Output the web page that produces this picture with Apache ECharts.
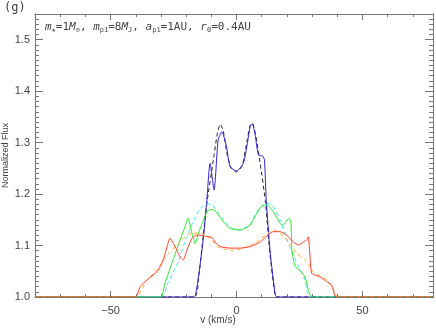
<!DOCTYPE html>
<html>
<head>
<meta charset="utf-8">
<script src="https://cdn.jsdelivr.net/npm/echarts@6/dist/echarts.min.js"></script>
<style>
  html, body { margin: 0; padding: 0; background: #fff; }
  #chart { width: 436px; height: 329px; }
</style>
</head>
<body>
<div id="chart"></div>
<script>
// velocity (km/s) / normalized flux pairs
const blueObs = [[-80,1.0],[-17.2,1.0],[-16.4,1.002],[-15.1,1.039],[-13.1,1.117],[-11.8,1.188],[-10.5,1.26],[-8.9,1.208],[-7.3,1.305],[-5.8,1.321],[-4.1,1.295],[-2.5,1.253],[0.1,1.245],[2.7,1.26],[4.2,1.295],[5.4,1.331],[6.3,1.336],[7.4,1.315],[8.7,1.276],[10.4,1.274],[11.1,1.266],[11.8,1.188],[13.3,1.091],[14.9,1.023],[16.1,1.0],[80,1.0]]
const blackModel = [[-80,1.0],[-16.8,1.0],[-15,1.04],[-13.2,1.12],[-11.6,1.188],[-9.2,1.266],[-7.7,1.315],[-6.5,1.336],[-5.3,1.324],[-3.7,1.276],[-2.1,1.25],[-0.2,1.243],[2.2,1.254],[4.2,1.305],[5.4,1.334],[6.3,1.338],[7.4,1.32],[9.4,1.26],[11.4,1.188],[13.3,1.082],[15.3,1.004],[16.1,1.0],[80,1.0]]
const greenObs = [[-80,1.0],[-30.3,1.0],[-28.4,1.027],[-25.7,1.065],[-22.4,1.111],[-20.4,1.137],[-19.3,1.153],[-17.7,1.124],[-16.4,1.104],[-15.1,1.124],[-13.1,1.15],[-11.2,1.169],[-9.4,1.17],[-7.8,1.163],[-5.2,1.146],[-2.5,1.133],[1.4,1.13],[5.4,1.14],[8.1,1.163],[10.0,1.177],[12.0,1.179],[14.6,1.166],[17.3,1.143],[18.6,1.14],[20.0,1.15],[20.9,1.153],[21.6,1.143],[22.0,1.091],[23.3,1.059],[25.2,1.052],[27.2,1.039],[28.5,1.014],[29.9,1.0],[80,1.0]]
const cyanModel = [[-80,1.0],[-30,1.0],[-27,1.03],[-23.1,1.069],[-20.0,1.114],[-16.4,1.156],[-14.5,1.171],[-11.7,1.181],[-9.7,1.179],[-6.5,1.159],[-2.5,1.136],[1.4,1.13],[5.4,1.142],[8.6,1.169],[12.0,1.182],[14.1,1.179],[17.3,1.15],[20.0,1.111],[23.3,1.072],[27.2,1.033],[29.2,1.0],[80,1.0]]
const redObs = [[-80,1.0],[-40.2,1.0],[-38.3,1.02],[-35.6,1.033],[-31.6,1.049],[-29.7,1.065],[-28.3,1.085],[-27.4,1.101],[-26.4,1.114],[-25.0,1.104],[-23.7,1.091],[-22.4,1.078],[-21.1,1.072],[-19.7,1.091],[-17.7,1.114],[-15.8,1.12],[-13.8,1.12],[-11.8,1.117],[-9.8,1.116],[-8.5,1.107],[-6.5,1.098],[-2.5,1.095],[1.4,1.095],[5.4,1.098],[9.4,1.107],[14.6,1.127],[17.3,1.127],[20.0,1.12],[22.6,1.107],[24.6,1.101],[26.6,1.107],[28.1,1.112],[28.5,1.117],[29.2,1.078],[29.9,1.046],[33.2,1.039],[35.8,1.03],[37.8,1.023],[39.1,1.002],[39.8,1.0],[80,1.0]]
const orangeModel = [[-80,1.0],[-40,1.0],[-36,1.03],[-32.3,1.049],[-27.0,1.085],[-23.7,1.101],[-21.1,1.114],[-17.7,1.124],[-14.4,1.124],[-10.5,1.115],[-7.8,1.098],[-2.5,1.091],[1.4,1.093],[7.4,1.105],[13.3,1.127],[15.3,1.129],[19.3,1.115],[23.9,1.085],[27.2,1.072],[30.5,1.049],[35.8,1.033],[38.5,1.014],[40.4,1.0],[80,1.0]]

const vMajor = [-50, 0, 50]
const fMajor = [1.0, 1.1, 1.2, 1.3, 1.4, 1.5]

const axisCol = '#777'
const textCol = '#444'

let myEcharts = echarts.init(document.getElementById('chart'))

function vLabel(v){
  if (v % 50 !== 0) return ''
  return v < 0 ? '\u2212' + (-v) : String(v)
}
function fLabel(v){
  let k = Math.round(v * 10)
  if (Math.abs(v * 10 - k) > 1e-6 || k > 15) return ''
  return (k / 10).toFixed(1)
}

// mirrored axes, IDL box style: minor ticks on one axis, major ticks on a twin
function xAx(pos, major, labels){
  return {
    type: 'value', position: pos, min: -80, max: 78,
    interval: 10,
    axisLine: { show: true, onZero: false, lineStyle: { color: axisCol, width: 1 } },
    axisTick: major
      ? { show: true, inside: true, length: 6, customValues: vMajor, lineStyle: { color: axisCol } }
      : { show: true, inside: true, length: 3, lineStyle: { color: axisCol } },
    axisLabel: labels
      ? { show: true, formatter: vLabel, color: textCol, fontSize: 11, margin: 8 }
      : { show: false },
    splitLine: { show: false }
  }
}
function yAx(pos, major, labels){
  return {
    type: 'value', position: pos, min: 1.0, max: 1.55,
    interval: 0.01,
    axisLine: { show: true, onZero: false, lineStyle: { color: axisCol, width: 1 } },
    axisTick: major
      ? { show: true, inside: true, length: 8, customValues: fMajor, lineStyle: { color: axisCol } }
      : { show: true, inside: true, length: 4, lineStyle: { color: axisCol } },
    axisLabel: labels
      ? { show: true, formatter: fLabel, color: textCol, fontSize: 11, margin: 5 }
      : { show: false },
    splitLine: { show: false }
  }
}
// bare axis that only carries the y title
let yName = {
  type: 'value', position: 'left', min: 1.0, max: 1.55,
  axisLine: { show: false }, axisTick: { show: false }, axisLabel: { show: false }, splitLine: { show: false },
  name: 'Normalized Flux', nameLocation: 'middle', nameGap: 25, nameMoveOverlap: false,
  nameTextStyle: { color: textCol, fontSize: 9 }
}

function line(data, color, dashed){
  return {
    type: 'line', data: data, xAxisIndex: 0, yAxisIndex: 0,
    showSymbol: false, smooth: 0.2,
    lineStyle: { color: color, width: 1, type: dashed ? [4, 3] : 'solid' }
  }
}

myEcharts.setOption({
  animation: false,
  grid: { left: 35, right: 3, top: 14, bottom: 32, outerBoundsMode: 'none' },
  title: [
    { text: '(g)', left: 2, top: 0, padding: 2,
      textStyle: { color: textCol, fontSize: 12, fontWeight: 'normal', fontFamily: 'DejaVu Sans Mono' } },
    { text: '{i|m}{s|\u2605}=1{i|M}{s|\u2299}, {i|m}{s|p1}=8{i|M}{s|J}, {i|a}{s|p1}=1AU, {i|r}{s|0}=0.4AU',
      left: 43, top: 19, padding: 2,
      textStyle: {
        color: textCol, fontSize: 11, fontWeight: 'normal', fontFamily: 'DejaVu Sans Mono',
        rich: {
          i: { fontStyle: 'italic', fontSize: 11, fontFamily: 'DejaVu Sans Mono', color: textCol },
          s: { fontSize: 7, fontFamily: 'DejaVu Sans Mono', color: textCol, verticalAlign: 'bottom', padding: [6, 0, 0, 0] }
        }
      } },
    { text: 'v (km/s)', left: 'center', top: 315, padding: 0,
      textStyle: { color: textCol, fontSize: 10, fontWeight: 'normal' } }
  ],
  xAxis: [xAx('bottom', false, true), xAx('bottom', true, false), xAx('top', false, false), xAx('top', true, false)],
  yAxis: [yAx('left', false, true), yAx('left', true, false), yAx('right', false, false), yAx('right', true, false), yName],
  series: [
    line(blackModel, '#222', true),
    line(blueObs, '#3322d4', false),
    line(cyanModel, '#38e8f0', true),
    line(greenObs, '#2ee82e', false),
    line(orangeModel, '#ffb030', true),
    line(redObs, '#ff3a2a', false)
  ]
})
</script>
</body>
</html>
